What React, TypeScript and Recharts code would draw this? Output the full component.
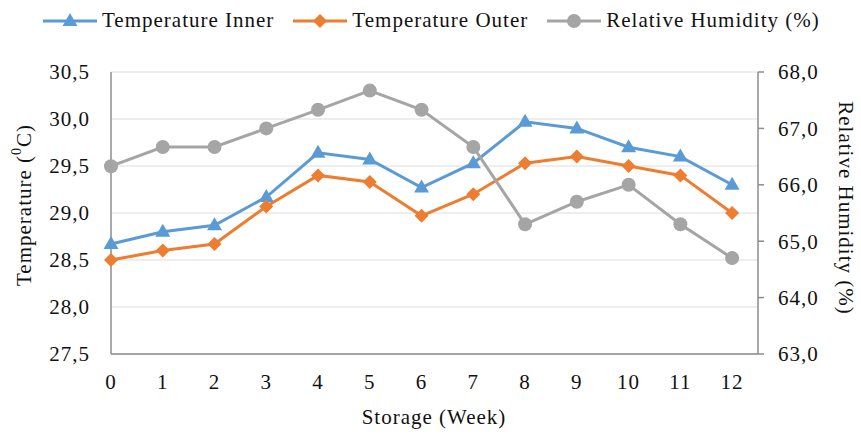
import React from 'react';
import { LineChart, Line, XAxis, YAxis, CartesianGrid } from 'recharts';

const weeks = [0, 1, 2, 3, 4, 5, 6, 7, 8, 9, 10, 11, 12];
const tempInner = [28.67, 28.8, 28.87, 29.17, 29.64, 29.57, 29.27, 29.53, 29.97, 29.9, 29.7, 29.6, 29.3];
const tempOuter = [28.5, 28.6, 28.67, 29.07, 29.4, 29.33, 28.97, 29.2, 29.53, 29.6, 29.5, 29.4, 29.0];
const humidity = [66.33, 66.67, 66.67, 67.0, 67.33, 67.67, 67.33, 66.67, 65.3, 65.7, 66.0, 65.3, 64.7];
const tempTicks = [27.5, 28.0, 28.5, 29.0, 29.5, 30.0, 30.5];
const humidityTicks = [63, 64, 65, 66, 67, 68];

const data = weeks.map((w, i) => ({
    week: w,
    inner: tempInner[i],
    outer: tempOuter[i],
    rh: humidity[i],
}));

const FONT = "'Liberation Serif', 'Times New Roman', Times, 'DejaVu Serif', 'Noto Serif', serif";
const TEXT = '#111';
const AXIS = '#8c8c8c';
const BLUE = '#5B9BD5';
const ORANGE = '#ED7D31';
const GRAY = '#A5A5A5';

const fmt = (v: number) => v.toFixed(1).replace('.', ',');
const tickStyle = { fontSize: 21, fill: TEXT, style: { fontFamily: FONT, letterSpacing: 1 } };

const Triangle = ({ cx, cy, fill }: any) => {
    if (cx == null || cy == null) return null;
    return <path d={`M${cx},${cy - 8} L${cx + 7.5},${cy + 5} L${cx - 7.5},${cy + 5} Z`} fill={fill} />;
};

const Diamond = ({ cx, cy, fill }: any) => {
    if (cx == null || cy == null) return null;
    return <path d={`M${cx},${cy - 7} L${cx + 7},${cy} L${cx},${cy + 7} L${cx - 7},${cy} Z`} fill={fill} />;
};

const Circle = ({ cx, cy, fill }: any) => {
    if (cx == null || cy == null) return null;
    return <circle cx={cx} cy={cy} r={7} fill={fill} />;
};

const series = [
    { key: 'inner', name: 'Temperature Inner', color: BLUE, Marker: Triangle },
    { key: 'outer', name: 'Temperature Outer', color: ORANGE, Marker: Diamond },
    { key: 'rh', name: 'Relative Humidity (%)', color: GRAY, Marker: Circle },
];

const textStyle = { fontFamily: FONT, letterSpacing: 1 };

const LegendBar = () => (
    <div
        style={{
            position: 'absolute',
            top: 8,
            left: 43,
            display: 'flex',
            alignItems: 'center',
            gap: 19,
            fontFamily: FONT,
            fontSize: 21,
            letterSpacing: 1,
            color: TEXT,
        }}
    >
        {series.map((s) => (
            <div key={s.key} style={{ display: 'flex', alignItems: 'center', gap: 5 }}>
                <svg width={54} height={24}>
                    <line x1={0} y1={12} x2={54} y2={12} stroke={s.color} strokeWidth={3} />
                    <s.Marker cx={27} cy={12} fill={s.color} />
                </svg>
                <span style={{ whiteSpace: 'nowrap' }}>{s.name}</span>
            </div>
        ))}
    </div>
);

export default function App() {
    return (
        <div style={{ position: 'absolute', left: 0, top: 0, width: 861, height: 434, background: '#fff', fontFamily: FONT }}>
            <LineChart
                width={861}
                height={434}
                data={data}
                margin={{ top: 72, right: 0, bottom: 0, left: 0 }}
                style={{ fontFamily: FONT }}
            >
                <CartesianGrid yAxisId="left" vertical={false} stroke="#e8e8e8" strokeWidth={1.5} />
                <XAxis
                    dataKey="week"
                    type="number"
                    domain={[0, 12.5]}
                    ticks={weeks}
                    height={80}
                    axisLine={{ stroke: AXIS, strokeWidth: 1.5 }}
                    tickLine={false}
                    tickSize={0}
                    tickMargin={20}
                    tick={tickStyle}
                    label={() => (
                        <text x={434} y={417} textAnchor="middle" dominantBaseline="central"
                            fontSize={21} fill={TEXT} style={textStyle}>
                            Storage (Week)
                        </text>
                    )}
                />
                <YAxis
                    yAxisId="left"
                    domain={[27.5, 30.5]}
                    ticks={tempTicks}
                    width={111}
                    axisLine={{ stroke: AXIS, strokeWidth: 1.5 }}
                    tickLine={false}
                    tickSize={0}
                    tickMargin={21}
                    tickFormatter={fmt}
                    tick={tickStyle}
                    label={() => (
                        <text x={24} y={205} transform="rotate(-90 24 205)" textAnchor="middle"
                            dominantBaseline="central" fontSize={21} fill={TEXT} style={textStyle}>
                            Temperature (<tspan fontSize={14} dy={-8}>0</tspan><tspan dy={8}>C)</tspan>
                        </text>
                    )}
                />
                <YAxis
                    yAxisId="right"
                    orientation="right"
                    domain={[63, 68]}
                    ticks={humidityTicks}
                    width={103}
                    axisLine={{ stroke: AXIS, strokeWidth: 1.5 }}
                    tickLine={{ stroke: AXIS, strokeWidth: 1.5 }}
                    tickSize={6}
                    tickMargin={14}
                    tickFormatter={fmt}
                    tick={tickStyle}
                    label={() => (
                        <text x={846} y={208} transform="rotate(90 846 208)" textAnchor="middle"
                            dominantBaseline="central" fontSize={21} fill={TEXT} style={textStyle}>
                            Relative Humidity (%)
                        </text>
                    )}
                />
                {series.map((s) => (
                    <Line
                        key={s.key}
                        yAxisId={s.key === 'rh' ? 'right' : 'left'}
                        type="linear"
                        dataKey={s.key}
                        name={s.name}
                        stroke={s.color}
                        strokeWidth={3}
                        dot={<s.Marker fill={s.color} />}
                        activeDot={false}
                        isAnimationActive={false}
                    />
                ))}
            </LineChart>
            <LegendBar />
        </div>
    );
}
